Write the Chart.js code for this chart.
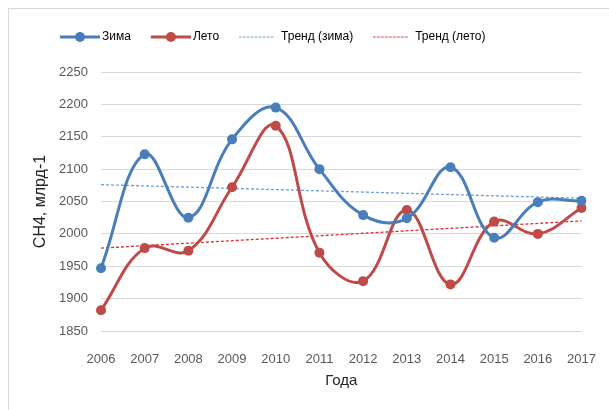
<!DOCTYPE html>
<html>
<head>
<meta charset="utf-8">
<script src="https://cdn.jsdelivr.net/npm/chart.js@4.4.1/dist/chart.umd.min.js"></script>
<style>
  html, body { margin: 0; padding: 0; background: #fff; overflow: hidden; }
  #frame { position: absolute; left: 8px; top: 8px; width: 700px; height: 500px; border: 1px solid #d9d9d9; }
  #myChart { position: absolute; left: 0; top: 0; }
</style>
</head>
<body>
<div id="frame"></div>
<canvas id="myChart" width="609" height="410"></canvas>
<script>
var years = ["2006", "2007", "2008", "2009", "2010", "2011", "2012", "2013", "2014", "2015", "2016", "2017"];
var winter = [1947, 2123, 2025, 2146, 2195, 2100, 2029, 2024, 2103, 1994, 2049, 2051];
var summer = [1882, 1978, 1974, 2072, 2167, 1971, 1927, 2037, 1922, 2019, 2000, 2040];
// trend lines: values at first and last year
var trendYears = ["2006", "2017"];
var trendWinter = [2076, 2055];
var trendSummer = [1978, 2020];
var yTicks = [1850, 1900, 1950, 2000, 2050, 2100, 2150, 2200, 2250];

var blue = '#4a7ebb';
var red = '#be4b48';
var blueTrend = '#6a9fdc';
var redTrend = '#e02b2b';

function seriesIcon(color) {
    var c = document.createElement('canvas');
    c.width = 44; c.height = 12;
    var g = c.getContext('2d');
    g.strokeStyle = color;
    g.lineWidth = 3;
    g.beginPath(); g.moveTo(4, 6); g.lineTo(44, 6); g.stroke();
    g.fillStyle = color;
    g.beginPath(); g.arc(24, 6, 5, 0, Math.PI * 2); g.fill();
    return c;
}
function trendIcon(color) {
    var c = document.createElement('canvas');
    c.width = 44; c.height = 12;
    var g = c.getContext('2d');
    g.strokeStyle = color;
    g.lineWidth = 1.2;
    g.setLineDash([2.5, 1.5]);
    g.beginPath(); g.moveTo(4, 6); g.lineTo(40, 6); g.stroke();
    return c;
}
var icons = [seriesIcon(blue), seriesIcon(red), trendIcon(blueTrend), trendIcon(redTrend)];

function pairs(xs, ys) {
    return xs.map(function (x, i) { return { x: x, y: ys[i] }; });
}

Chart.defaults.font.family = "'Liberation Sans', Arial, sans-serif";
Chart.defaults.color = '#595959';

var moveLegend = {
    id: 'moveLegend',
    afterLayout: function (chart) {
        chart.legend.left = 40;
        chart.legend.top = 11;
    }
};

var ctx = document.getElementById("myChart").getContext('2d');
var myChart = new Chart(ctx, {
    type: 'line',
    data: {
        labels: years,
        datasets: [{
            label: 'Зима',
            data: winter,
            borderColor: blue,
            backgroundColor: blue,
            borderWidth: 3,
            pointRadius: 5,
            pointBorderWidth: 0,
            tension: 0.4
        }, {
            label: 'Лето',
            data: summer,
            borderColor: red,
            backgroundColor: red,
            borderWidth: 3,
            pointRadius: 5,
            pointBorderWidth: 0,
            tension: 0.4
        }, {
            label: 'Тренд (зима)',
            data: pairs(trendYears, trendWinter),
            borderColor: blueTrend,
            borderWidth: 1.3,
            borderDash: [3, 2],
            pointRadius: 0
        }, {
            label: 'Тренд (лето)',
            data: pairs(trendYears, trendSummer),
            borderColor: redTrend,
            borderWidth: 1.3,
            borderDash: [3, 2],
            pointRadius: 0
        }]
    },
    options: {
        responsive: false,
        animation: false,
        events: [],
        layout: { padding: { left: 0, right: 23, top: 30, bottom: 0 } },
        plugins: {
            tooltip: { enabled: false },
            legend: {
                position: 'top',
                align: 'start',
                labels: {
                    usePointStyle: true,
                    pointStyleWidth: 36,
                    padding: 20,
                    color: '#595959',
                    font: { size: 12 },
                    generateLabels: function (chart) {
                        return chart.data.datasets.map(function (ds, i) {
                            return {
                                text: ds.label,
                                pointStyle: icons[i],
                                fillStyle: 'transparent',
                                strokeStyle: 'transparent',
                                lineWidth: 0,
                                datasetIndex: i
                            };
                        });
                    }
                }
            }
        },
        scales: {
            x: {
                offset: false,
                grid: { display: false },
                border: { display: false },
                ticks: { font: { size: 13 }, padding: 13, maxRotation: 0, autoSkip: false },
                title: {
                    display: true,
                    text: 'Года',
                    color: '#262626',
                    font: { size: 15 },
                    padding: { top: 0, bottom: 20 }
                },
                afterFit: function (s) { s.height = 79; }
            },
            y: {
                min: 1850,
                max: 2250,
                afterBuildTicks: function (s) {
                    s.ticks = yTicks.map(function (v) { return { value: v }; });
                },
                grid: { color: '#d9d9d9', lineWidth: 1, drawTicks: false },
                border: { display: false },
                ticks: {
                    font: { size: 13 },
                    padding: 13,
                    callback: function (v) { return String(v); }
                },
                title: {
                    display: true,
                    text: 'CH4, млрд-1',
                    color: '#262626',
                    font: { size: 16 },
                    padding: { top: 31, bottom: 0 }
                },
                afterFit: function (s) { s.width = 101; }
            }
        }
    },
    plugins: [moveLegend]
});
</script>
</body>
</html>
